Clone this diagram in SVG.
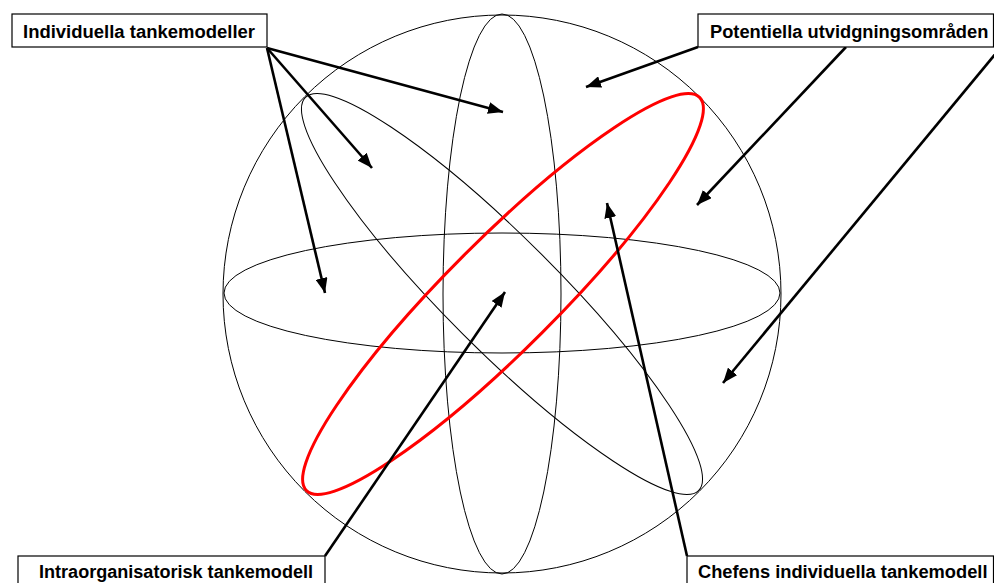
<svg xmlns="http://www.w3.org/2000/svg" width="994" height="583" viewBox="0 0 994 583">
<style>
.thin{fill:none;stroke:#000;stroke-width:1}
.red{fill:none;stroke:#ff0000;stroke-width:3}
.arr{fill:none;stroke:#000;stroke-width:2.6;marker-end:url(#ah)}
.box{fill:#fff;stroke:#000;stroke-width:1.2}
.lbl{font-family:"Liberation Sans",Arial,sans-serif;font-weight:bold;font-size:18.3px;fill:#000}
</style>
<defs>
<marker id="ah" markerUnits="userSpaceOnUse" markerWidth="16" markerHeight="12" refX="15" refY="6" orient="auto">
<path d="M0,0 L15,6 L0,12 Z" fill="#000"/>
</marker>
</defs>
<rect width="994" height="583" fill="#fff"/>
<g id="sphere">
<circle class="thin" cx="502" cy="294" r="279"/>
<ellipse class="thin" cx="502" cy="293" rx="278" ry="60"/>
<ellipse class="thin" cx="502" cy="294" rx="59" ry="280"/>
<ellipse class="thin" cx="502" cy="294" rx="278" ry="56" transform="rotate(45 502 294)"/>
</g>
<g id="red-ellipse">
<ellipse class="red" cx="503" cy="294" rx="278" ry="55" transform="rotate(-45 503 294)"/>
</g>
<g id="connectors">
<line class="arr" x1="267" y1="48" x2="503" y2="112"/>
<line class="arr" x1="267" y1="48" x2="372" y2="168"/>
<line class="arr" x1="267" y1="48" x2="325" y2="293"/>
<line class="arr" x1="698" y1="47" x2="586" y2="87"/>
<line class="arr" x1="846" y1="47" x2="697" y2="205"/>
<line class="arr" x1="997" y1="52" x2="723" y2="383"/>
<line class="arr" x1="325" y1="556" x2="505" y2="292"/>
<line class="arr" x1="687" y1="556" x2="607" y2="203"/>
</g>
<g id="n-individuella">
<rect class="box" x="12" y="14" width="255" height="33"/>
<text class="lbl" x="23" y="38" textLength="232" lengthAdjust="spacingAndGlyphs">Individuella tankemodeller</text>
</g>
<g id="n-potentiella">
<rect class="box" x="698" y="14" width="295.5" height="33"/>
<text class="lbl" x="710" y="38">Potentiella utvidgningsområden</text>
</g>
<g id="n-intra">
<rect class="box" x="18" y="556" width="307" height="40"/>
<text class="lbl" x="39" y="578" textLength="274" lengthAdjust="spacingAndGlyphs">Intraorganisatorisk tankemodell</text>
</g>
<g id="n-chefens">
<rect class="box" x="687" y="556" width="306.5" height="40"/>
<text class="lbl" x="698" y="578">Chefens individuella tankemodell</text>
</g>
</svg>
